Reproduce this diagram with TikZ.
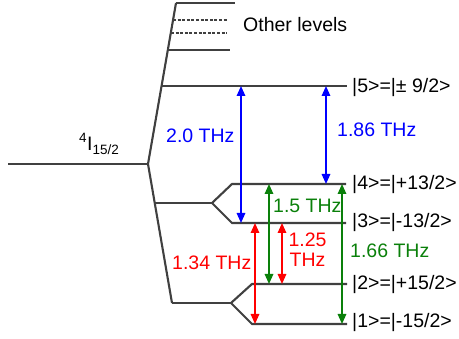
\documentclass[tikz,border=0pt]{standalone}
\usepackage{fontspec}
\setmainfont{Liberation Sans}
\usetikzlibrary{arrows.meta}
\definecolor{lvlgray}{HTML}{404040}
\definecolor{tblue}{HTML}{0000FF}
\definecolor{tgreen}{HTML}{0A800A}
\definecolor{tred}{HTML}{FF0000}
\begin{document}
\begin{tikzpicture}[x=1pt,y=-1pt,
  lvl/.style={draw=lvlgray,line width=2.1pt},
  dlvl/.style={draw=lvlgray,line width=1.5pt,dash pattern=on 3pt off 1.6pt},
  trans/.style={{Triangle[length=10pt,width=8.5pt]}-{Triangle[length=10pt,width=8.5pt]},line width=1.6pt},
  lbl/.style={anchor=base west,inner sep=0pt,font=\fontsize{19.5}{22}\selectfont},
]
\useasboundingbox (0,0) rectangle (459,339);
% ground level and fan
\coordinate (g0) at (8,164);
\coordinate (g1) at (148,164);
\coordinate (top) at (176,3);
\coordinate (bot) at (172,303);
\draw[lvl] (g0) -- (g1);
\draw[lvl] (g1) -- (top);
\draw[lvl] (g1) -- (bot);
% upper levels
\coordinate (o1a) at (176,3);   \coordinate (o1b) at (235,3);
\coordinate (o2a) at (173,20);  \coordinate (o2b) at (227,20);
\coordinate (o3a) at (171,33);  \coordinate (o3b) at (227,33);
\coordinate (o4a) at (168,50);  \coordinate (o4b) at (230,50);
\coordinate (l5a) at (162,86);  \coordinate (l5b) at (347,86);
\draw[lvl] (o1a) -- (o1b);
\draw[dlvl] (o2a) -- (o2b);
\draw[dlvl] (o3a) -- (o3b);
\draw[lvl] (o4a) -- (o4b);
\draw[lvl] (l5a) -- (l5b);
% middle doublet
\coordinate (ma) at (155,203); \coordinate (ms) at (212,203);
\coordinate (l4a) at (232,184); \coordinate (l4b) at (346,184);
\coordinate (l3a) at (232,223); \coordinate (l3b) at (346,223);
\draw[lvl] (ma) -- (ms);
\draw[lvl] (ms) -- (l4a) -- (l4b);
\draw[lvl] (ms) -- (l3a) -- (l3b);
% lower doublet
\coordinate (bs) at (231,303);
\coordinate (l2a) at (252,284); \coordinate (l2b) at (347,284);
\coordinate (l1a) at (252,324); \coordinate (l1b) at (347,324);
\draw[lvl] (bot) -- (bs);
\draw[lvl] (bs) -- (l2a) -- (l2b);
\draw[lvl] (bs) -- (l1a) -- (l1b);
% transitions
\coordinate (ba1) at (241,86);  \coordinate (ba2) at (241,223);
\coordinate (bb1) at (326,86);  \coordinate (bb2) at (326,184);
\coordinate (ga1) at (269,184); \coordinate (ga2) at (269,284);
\coordinate (gb1) at (342,184); \coordinate (gb2) at (342,324);
\coordinate (ra1) at (255,223); \coordinate (ra2) at (255,324);
\coordinate (rb1) at (282,223); \coordinate (rb2) at (282,284);
\draw[trans,tblue] (ba1) -- (ba2);
\draw[trans,tblue] (bb1) -- (bb2);
\draw[trans,tgreen] (ga1) -- (ga2);
\draw[trans,tgreen] (gb1) -- (gb2);
\draw[trans,tred] (ra1) -- (ra2);
\draw[trans,tred] (rb1) -- (rb2);
% labels
\node[lbl] (tother) at (243,32) {Other levels};
\node[lbl] (t5) at (352,93) {|5>=|± 9/2>};
\node[lbl] (t4) at (352,190) {|4>=|+13/2>};
\node[lbl] (t3) at (352,228) {|3>=|-13/2>};
\node[lbl] (t2) at (352,290) {|2>=|+15/2>};
\node[lbl] (t1) at (352,328) {|1>=|-15/2>};
\node[lbl,tblue] (f20) at (166,143) {2.0 THz};
\node[lbl,tblue] (f186) at (337,137) {1.86 THz};
\node[lbl,tgreen] (f15) at (273,213) {1.5 THz};
\node[lbl,tgreen] (f166) at (350,258) {1.66 THz};
\node[lbl,tred] (f134) at (172,270) {1.34 THz};
\node[anchor=base,inner sep=0pt,font=\fontsize{19.5}{22}\selectfont,tred] (f125a) at (307.5,247) {1.25};
\node[anchor=base,inner sep=0pt,font=\fontsize{19.5}{22}\selectfont,tred] (f125b) at (307.5,267) {THz};
\node[lbl] (term) at (79,151) {\raisebox{8pt}{\fontsize{13.5}{13}\selectfont 4}\kern0.5ptI\raisebox{-4pt}{\fontsize{13.5}{13}\selectfont 15/2}};
\end{tikzpicture}
\end{document}
